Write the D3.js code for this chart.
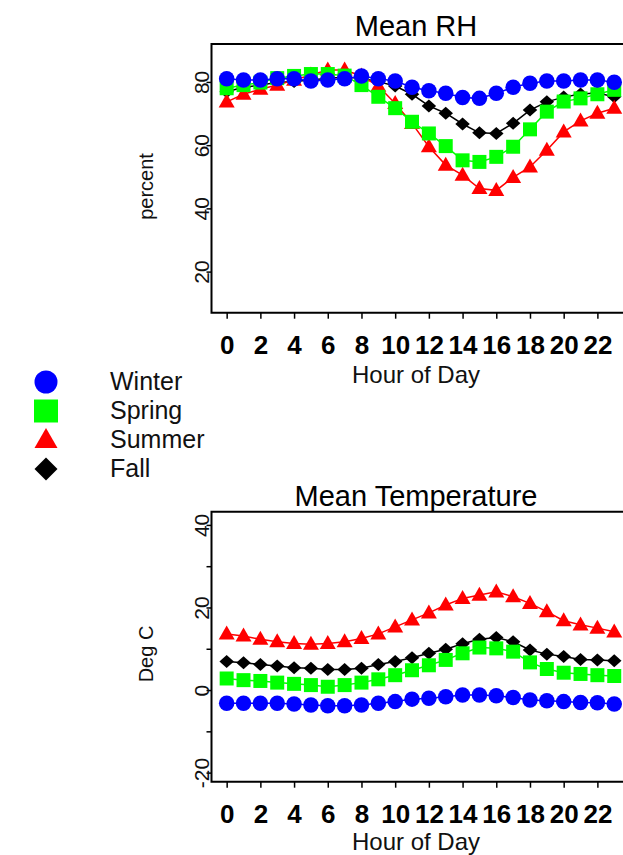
<!DOCTYPE html>
<html>
<head>
<meta charset="utf-8">
<style>
  body { margin: 0; background: #fff; }
  svg { display: block; font-family: Arial, "Liberation Sans", sans-serif; }
</style>
</head>
<body>
<svg id="viz" width="623" height="855"></svg>

<script src="https://d3js.org/d3.v7.min.js"></script>
<script>
  // hour of day, seasons
  var hours = [0, 1, 2, 3, 4, 5, 6, 7, 8, 9, 10, 11, 12, 13, 14, 15, 16, 17, 18, 19, 20, 21, 22, 23];
  var seasons = ["Winter", "Spring", "Summer", "Fall"];

  // mean RH (percent)
  var rhWinter = [81.0, 80.6, 80.6, 81.0, 81.0, 80.3, 80.6, 81.0, 81.9, 81.0, 80.3, 78.3, 77.2, 76.4, 75.1, 74.8, 76.4, 78.3, 79.6, 80.3, 80.3, 80.6, 80.6, 79.9];
  var rhSpring = [78.0, 79.0, 79.8, 81.2, 81.9, 82.5, 82.5, 82.0, 79.0, 75.3, 71.7, 67.4, 63.7, 59.7, 55.2, 54.7, 56.3, 59.5, 65.0, 70.6, 73.8, 74.8, 76.1, 77.5];
  var rhSummer = [73.7, 76.1, 77.7, 79.0, 80.6, 82.2, 83.8, 83.8, 81.9, 78.7, 73.2, 66.9, 59.5, 53.7, 50.5, 46.3, 45.7, 49.8, 53.1, 58.4, 64.2, 67.7, 70.1, 71.7];
  var rhFall = [76.9, 78.3, 79.0, 79.8, 80.1, 80.6, 81.2, 81.5, 81.2, 80.1, 78.7, 76.1, 72.4, 70.1, 66.7, 63.9, 63.7, 66.9, 71.1, 73.7, 75.2, 76.2, 76.5, 75.3];

  // mean temperature (deg C)
  var tWinter = [-3.2, -3.2, -3.2, -3.2, -3.4, -3.6, -3.8, -3.8, -3.6, -3.2, -2.8, -2.2, -2.0, -1.6, -1.2, -1.2, -1.4, -1.8, -2.4, -2.6, -2.8, -3.0, -3.1, -3.4];
  var tSpring = [2.8, 2.4, 2.2, 1.8, 1.5, 1.2, 0.8, 1.2, 1.8, 2.6, 3.6, 4.8, 6.0, 7.3, 8.9, 10.3, 10.1, 9.3, 6.7, 5.1, 4.2, 3.9, 3.6, 3.4];
  var tSummer = [13.6, 13.1, 12.3, 11.7, 11.3, 11.1, 11.3, 11.7, 12.5, 13.6, 15.3, 17.0, 18.7, 20.6, 22.2, 23.0, 23.8, 22.6, 21.0, 19.0, 16.8, 15.8, 15.0, 14.1];
  var tFall = [6.9, 6.6, 6.2, 5.8, 5.4, 5.3, 5.0, 5.0, 5.3, 6.2, 6.9, 7.8, 8.9, 9.9, 11.2, 12.3, 12.7, 11.7, 9.7, 8.7, 8.1, 7.4, 7.3, 7.1];

  // tick values
  var hourTicks = [0, 2, 4, 6, 8, 10, 12, 14, 16, 18, 20, 22];
  var rhTicks = [20, 40, 60, 80];
  var rhLabels = [20, 40, 60, 80];
  var tempTicks = [-20, -10, 0, 10, 20, 30, 40];
  var tempLabels = [-20, 0, 20, 40];

  var color = { Winter: "#0000ff", Spring: "#00ff00", Summer: "#ff0000", Fall: "#000000" };
  var shape = { Winter: "circle", Spring: "square", Summer: "triangle", Fall: "diamond" };

  var svg = d3.select("#viz");

  // path for a marker centred on 0,0
  function markerPath(kind, w, h) {
    var p = d3.path();
    if (kind == "circle") {
      p.arc(0, 0, w / 2, 0, 2 * Math.PI);
    } else if (kind == "square") {
      p.rect(-w / 2, -h / 2, w, h);
    } else if (kind == "triangle") {
      p.moveTo(0, -h * 0.6);
      p.lineTo(w / 2, h * 0.4);
      p.lineTo(-w / 2, h * 0.4);
      p.closePath();
    } else {
      p.moveTo(0, -h / 2);
      p.lineTo(w / 2, 0);
      p.lineTo(0, h / 2);
      p.lineTo(-w / 2, 0);
      p.closePath();
    }
    return p.toString();
  }

  var markSize = {
    circle: [15.5, 15.5],
    square: [14, 14],
    triangle: [16, 14],
    diamond: [14.5, 13]
  };

  var x = d3.scaleLinear().domain([-0.9, 23.9]).range([211.5, 629.4]);

  function drawPanel(p) {
    var y = d3.scaleLinear().domain(p.yDomain).range([p.bottom, p.top]);
    var g = svg.append("g");

    // title
    g.append("text")
      .attr("x", 416)
      .attr("y", p.top - p.titleGap)
      .attr("text-anchor", "middle")
      .style("font-size", "29px")
      .style("fill", "#000")
      .text(p.title);

    // series, drawn fall first so winter ends up on top
    var order = ["Fall", "Summer", "Spring", "Winter"];
    order.forEach(function(s) {
      var vals = p.series[s];
      var line = d3.line()
        .x(function(d, i) { return x(hours[i]); })
        .y(function(d) { return y(d); });

      g.append("path")
        .datum(vals)
        .attr("d", line)
        .attr("fill", "none")
        .attr("stroke", color[s])
        .attr("stroke-width", 1.5);

      var sz = markSize[shape[s]];
      g.append("g").selectAll("path")
        .data(vals)
        .enter()
        .append("path")
        .attr("d", markerPath(shape[s], sz[0], sz[1]))
        .attr("transform", function(d, i) {
          return "translate(" + x(hours[i]) + "," + y(d) + ")";
        })
        .attr("fill", color[s]);
    });

    // frame (right side runs off the page)
    g.append("path")
      .attr("d", "M640," + p.top + "H" + x.range()[0] + "V" + p.bottom + "H640")
      .attr("fill", "none")
      .attr("stroke", "#000")
      .attr("stroke-width", 2);

    // x axis
    var xAxis = g.append("g")
      .attr("transform", "translate(0," + p.bottom + ")")
      .call(d3.axisBottom(x).tickValues(hourTicks).tickSize(6).tickSizeOuter(0));
    xAxis.select(".domain").remove();
    xAxis.selectAll("line").attr("stroke", "#000").attr("stroke-width", 1.5);
    xAxis.selectAll("text")
      .attr("y", 41.5)
      .attr("dy", 0)
      .style("font-size", "26px")
      .style("font-weight", "bold")
      .style("font-family", "Arial, 'Liberation Sans', sans-serif")
      .style("fill", "#000");

    g.append("text")
      .attr("x", 416)
      .attr("y", p.bottom + p.xTitleGap)
      .attr("text-anchor", "middle")
      .style("font-size", "24px")
      .style("fill", "#111")
      .text("Hour of Day");

    // y axis
    var yAxis = g.append("g")
      .attr("transform", "translate(" + x.range()[0] + ",0)")
      .call(d3.axisLeft(y).tickValues(p.yTicks).tickSize(5).tickSizeOuter(0)
        .tickFormat(function(d) { return p.yLabels.indexOf(d) >= 0 ? String(d) : ""; }));
    yAxis.select(".domain").remove();
    yAxis.selectAll("line").attr("stroke", "#000").attr("stroke-width", 1.5);
    yAxis.selectAll("text")
      .attr("x", 0)
      .attr("y", 0)
      .attr("dy", 0)
      .attr("text-anchor", "middle")
      .attr("transform", "translate(-2.5,0) rotate(-90)")
      .style("font-size", "21px")
      .style("font-family", "Arial, 'Liberation Sans', sans-serif")
      .style("fill", "#111");

    g.append("text")
      .attr("transform", "translate(153," + p.yTitleY + ") rotate(-90)")
      .attr("text-anchor", "middle")
      .style("font-size", "20px")
      .style("fill", "#111")
      .text(p.yTitle);
  }

  drawPanel({
    title: "Mean RH",
    top: 44, bottom: 312.7, titleGap: 8, xTitleGap: 70.5,
    yDomain: [7, 92],
    yTicks: rhTicks, yLabels: rhLabels,
    yTitle: "percent", yTitleY: 186.5,
    series: { Winter: rhWinter, Spring: rhSpring, Summer: rhSummer, Fall: rhFall }
  });

  drawPanel({
    title: "Mean Temperature",
    top: 511.7, bottom: 781.7, titleGap: 6, xTitleGap: 68.5,
    yDomain: [-22.2, 43.2],
    yTicks: tempTicks, yLabels: tempLabels,
    yTitle: "Deg C", yTitleY: 654,
    series: { Winter: tWinter, Spring: tSpring, Summer: tSummer, Fall: tFall }
  });

  // legend
  var legendSize = {
    circle: [23, 23],
    square: [24, 23],
    triangle: [23, 20],
    diamond: [23, 23]
  };

  var legend = svg.append("g").attr("class", "legend");
  seasons.forEach(function(s, i) {
    var sz = legendSize[shape[s]];
    legend.append("path")
      .attr("d", markerPath(shape[s], sz[0], sz[1]))
      .attr("transform", "translate(46," + (382 + i * 29) + ")")
      .attr("fill", color[s]);
    legend.append("text")
      .attr("x", 110)
      .attr("y", 390 + i * 29)
      .style("font-size", "25px")
      .style("fill", "#111")
      .text(s);
  });
</script>
</body>
</html>
